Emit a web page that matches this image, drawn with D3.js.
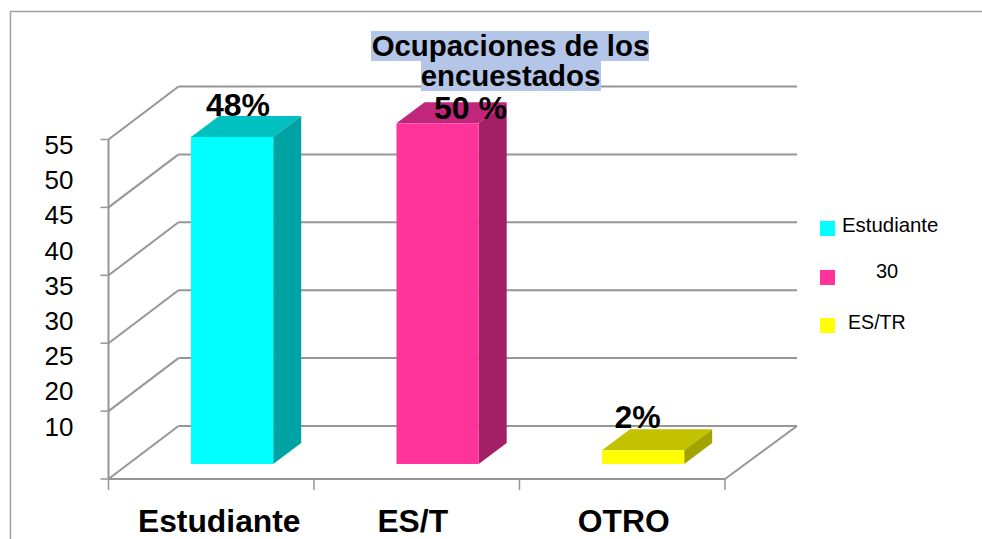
<!DOCTYPE html>
<html><head><meta charset="utf-8">
<script src="https://cdn.jsdelivr.net/npm/d3@7/dist/d3.min.js"></script>
<style>html,body{margin:0;padding:0;background:#fff}svg{display:block}text{font-family:"Liberation Sans",Arial,sans-serif;fill:#000}</style>
</head><body><svg id="c" width="982" height="539"></svg>
<script>
const categories = ["Estudiante", "ES/T", "OTRO"];
const values = [48, 50, 2];
const valueLabels = ["48%", "50 %", "2%"];
const gridTicks = [0, 10, 20, 30, 40, 50];
const yTickLabels = ["55", "50", "45", "40", "35", "30", "25", "20", "10"];
const legendLabels = ["Estudiante", "30", "ES/TR"];
const titleLines = ["Ocupaciones de los", "encuestados"];
const frontColors = ["#00ffff", "#ff3399", "#ffff00"];
const topColors = ["#00c0c0", "#c2267a", "#c2c200"];
const sideColors = ["#00a3a3", "#a32066", "#a3a300"];

const svg = d3.select("#c");
const grey = "#969696";
const x = d3.scaleBand(categories, [108.5, 725]);
const y = d3.scaleLinear([0, 50], [479, 139.5]);
const barY = d3.scaleLinear([0, 50], [464, 123.3]);
const labelY = d3.scalePoint(yTickLabels, [154, 435.7]);
const wallDx = 70, wallDy = -53, barDx = 28, barDy = -21;
const barInset = x.bandwidth() * 0.4015, barW = x.bandwidth() * 0.4;

// outer frame
svg.append("path").attr("d", "M10.5,539V11.5H982").attr("fill", "none").attr("stroke", "#a0a0a0").attr("stroke-width", 1.5);

const line = (x1, y1, x2, y2, w = 2) => svg.append("line").attr("x1", x1).attr("y1", y1).attr("x2", x2).attr("y2", y2).attr("stroke", grey).attr("stroke-width", w);

// grid: side wall + back wall
gridTicks.forEach(t => {
  const yy = y(t);
  line(x.range()[0], yy, x.range()[0] + wallDx, yy + wallDy, 2);
  line(x.range()[0] + wallDx, yy + wallDy, x.range()[1] + wallDx + 2, yy + wallDy, 2);
  line(x.range()[0] - 8, yy, x.range()[0], yy, 1.5);
});
// floor and axes
line(x.range()[0], y(50), x.range()[0], y(0), 2);
line(x.range()[0], y(0), x.range()[1], y(0), 2);
line(x.range()[1], y(0), x.range()[1] + wallDx + 2, y(0) + wallDy, 2);
[...categories.map(c => x(c)), x.range()[1]].forEach(v => line(v, y(0), v, 490, 1.5));

// bars
categories.forEach((c, i) => {
  const l = x(c) + barInset, r = l + barW, t = barY(values[i]), b = barY(0);
  const g = svg.append("g");
  g.append("path").attr("fill", topColors[i]).attr("d", d3.line()([[l, t], [r, t], [r + barDx, t + barDy], [l + barDx, t + barDy]]) + "Z");
  g.append("path").attr("fill", sideColors[i]).attr("d", d3.line()([[r, t], [r + barDx, t + barDy], [r + barDx, b + barDy], [r, b]]) + "Z");
  g.append("rect").attr("x", l).attr("y", t).attr("width", barW).attr("height", b - t).attr("fill", frontColors[i]);
});

// y labels
svg.selectAll(".yl").data(yTickLabels).join("text").attr("class", "yl")
  .attr("x", 73.5).attr("y", d => labelY(d)).attr("text-anchor", "end")
  .attr("font-size", 26).text(d => d);

// category labels
const catDx = [8, -4, 1.5];
svg.selectAll(".cat").data(categories).join("text").attr("class", "cat")
  .attr("x", (d, i) => x(d) + x.bandwidth() / 2 + catDx[i]).attr("y", 532)
  .attr("text-anchor", "middle").attr("font-size", 31.8).attr("font-weight", 700).text(d => d);

// value labels
const valLabelX = [238, 470.5, 637.5], valLabelY = [116, 119, 428];
svg.selectAll(".val").data(valueLabels).join("text").attr("class", "val")
  .attr("x", (d, i) => valLabelX[i]).attr("y", (d, i) => valLabelY[i])
  .attr("text-anchor", "middle").attr("font-size", 32).attr("font-weight", 700).text(d => d);

// legend
const swY = [221, 270, 318], lgX = [842, 876, 848], lgY = [232, 278, 329];
const lgSize = [20.4, 20, 19.6];
legendLabels.forEach((d, i) => {
  svg.append("rect").attr("x", 820).attr("y", swY[i]).attr("width", 15).attr("height", 15).attr("fill", frontColors[i]);
  svg.append("text").attr("x", lgX[i]).attr("y", lgY[i]).attr("font-size", lgSize[i]).text(d);
});

// title
const tRects = [[371, 31, 278, 30], [421, 61, 180, 30]], tBase = [56, 86];
titleLines.forEach((d, i) => {
  const r = tRects[i];
  svg.append("rect").attr("x", r[0]).attr("y", r[1]).attr("width", r[2]).attr("height", r[3]).attr("fill", "#b4c6e7");
});
titleLines.forEach((d, i) => {
  svg.append("text").attr("x", 510.5).attr("y", tBase[i]).attr("text-anchor", "middle")
    .attr("font-size", 29.4).attr("font-weight", 700).text(d);
});
</script></body></html>
